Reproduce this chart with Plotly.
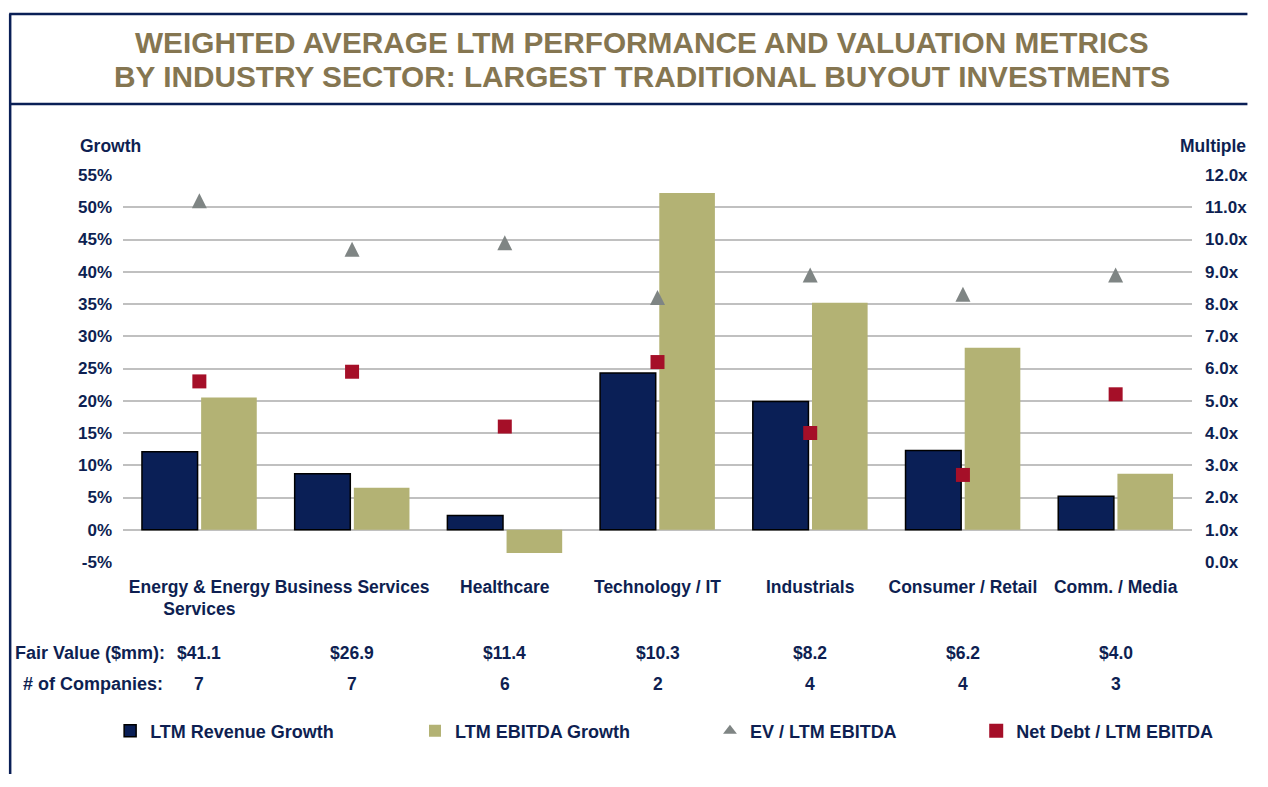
import plotly.graph_objects as go

categories = ["Energy & Energy<br>Services", "Business Services", "Healthcare",
              "Technology / IT", "Industrials", "Consumer / Retail", "Comm. / Media"]
revenue_growth = [12.1, 8.7, 2.2, 24.3, 19.9, 12.3, 5.2]
ebitda_growth = [20.5, 6.5, -3.6, 52.2, 35.2, 28.2, 8.7]
ev_ebitda = [11.2, 9.7, 9.9, 8.2, 8.9, 8.3, 8.9]
net_debt_ebitda = [5.6, 5.9, 4.2, 6.2, 4.0, 2.7, 5.2]
fair_value = ["$41.1", "$26.9", "$11.4", "$10.3", "$8.2", "$6.2", "$4.0"]
num_companies = [7, 7, 6, 2, 4, 4, 3]
growth_ticks = list(range(-5, 60, 5))
multiple_ticks = list(range(0, 13))

NAVY_TXT = "#0E1F52"
NAVY = "#0A1F56"
OLIVE = "#B3B274"
RED = "#A50F28"
GRAY = "#7F8584"
TITLE_C = "#857651"
GRID = "#C0C0C0"
FONT = "Liberation Sans, Arial, sans-serif"

# page body has an 8px margin: figure is drawn from page (8, 8)
OFF = 8
W, H = 1252, 767
L, T = 115, 167
PW, PH = 1080, 387
R, B = W - L - PW, H - T - PH


def px_x(p):
    return (p - OFF - L) / PW


def px_y(p):
    return (T + PH - (p - OFF)) / PH


fig = go.Figure()
fig.add_trace(go.Bar(x=categories, y=revenue_growth, name="LTM Revenue Growth",
                     marker=dict(color=NAVY, line=dict(color="#000000", width=1.5)),
                     legend="legend"))
fig.add_trace(go.Bar(x=categories, y=ebitda_growth, name="LTM EBITDA Growth",
                     marker=dict(color=OLIVE, line=dict(width=0)),
                     legend="legend2"))
fig.add_trace(go.Scatter(x=categories, y=ev_ebitda, name="EV / LTM EBITDA", mode="markers",
                         yaxis="y2", showlegend=False,
                         marker=dict(symbol="arrow-down", angle=180, standoff=7.5,
                                     size=15, color=GRAY, line=dict(width=0))))
# legend entry for the triangle series (no points)
fig.add_trace(go.Scatter(x=[None], y=[None], name="EV / LTM EBITDA", mode="markers",
                         yaxis="y2",
                         marker=dict(symbol="triangle-up", size=12, color=GRAY),
                         legend="legend3"))
fig.add_trace(go.Scatter(x=categories, y=net_debt_ebitda, name="Net Debt / LTM EBITDA",
                         mode="markers", yaxis="y2",
                         marker=dict(symbol="square", size=14, color=RED),
                         legend="legend4"))

base_font = dict(family=FONT, size=17, color=NAVY_TXT, weight="bold")
big_font = dict(family=FONT, size=18, color=NAVY_TXT, weight="bold")
title_font = dict(family=FONT, size=29.8, color=TITLE_C, weight="bold")

annotations = []
annotations.append(dict(text="WEIGHTED AVERAGE LTM PERFORMANCE AND VALUATION METRICS",
                        xref="paper", yref="paper", x=px_x(647), y=px_y(42),
                        xanchor="center", yanchor="middle", showarrow=False,
                        font=title_font))
annotations.append(dict(text="BY INDUSTRY SECTOR: LARGEST TRADITIONAL BUYOUT INVESTMENTS",
                        xref="paper", yref="paper", x=px_x(647), y=px_y(76),
                        xanchor="center", yanchor="middle", showarrow=False,
                        font=title_font))
annotations.append(dict(text="Growth", xref="paper", yref="paper",
                        x=px_x(78), y=px_y(146), xanchor="left", yanchor="middle",
                        showarrow=False, font=dict(base_font, size=17.5)))
annotations.append(dict(text="Multiple", xref="paper", yref="paper",
                        x=px_x(1260), y=px_y(146), xanchor="right", yanchor="middle",
                        showarrow=False, font=dict(base_font, size=17.5)))
annotations.append(dict(text="Fair Value ($mm):", xref="paper", yref="paper",
                        x=px_x(167), y=px_y(653), xanchor="right", yanchor="middle",
                        showarrow=False, font=big_font))
annotations.append(dict(text="# of Companies:", xref="paper", yref="paper",
                        x=px_x(165), y=px_y(684), xanchor="right", yanchor="middle",
                        showarrow=False, font=big_font))
for c, fv, n in zip(categories, fair_value, num_companies):
    annotations.append(dict(text=fv, xref="x", yref="paper", x=c, y=px_y(653),
                            xanchor="center", yanchor="middle", showarrow=False,
                            font=dict(base_font, size=17.5)))
    annotations.append(dict(text=str(n), xref="x", yref="paper", x=c, y=px_y(684),
                            xanchor="center", yanchor="middle", showarrow=False,
                            font=dict(base_font, size=17.5)))

shapes = [
    dict(type="line", xref="paper", yref="paper", x0=px_x(8), x1=px_x(1259),
         y0=px_y(14), y1=px_y(14), line=dict(color=NAVY, width=2.5)),
    dict(type="line", xref="paper", yref="paper", x0=px_x(8), x1=px_x(1259),
         y0=px_y(104), y1=px_y(104), line=dict(color=NAVY, width=2.5)),
    dict(type="line", xref="paper", yref="paper", x0=px_x(9), x1=px_x(9),
         y0=px_y(14), y1=px_y(774), line=dict(color=NAVY, width=2.5)),
]


def leg(xp):
    return dict(orientation="h", x=px_x(xp), y=px_y(731), xanchor="left", yanchor="middle",
                bgcolor="rgba(0,0,0,0)", font=big_font,
                itemclick=False, itemdoubleclick=False)


fig.update_layout(
    width=W, height=H, autosize=False,
    margin=dict(l=L, r=R, t=T, b=B, pad=0),
    paper_bgcolor="white", plot_bgcolor="white",
    font=base_font,
    barmode="group", bargap=0.225, bargroupgap=0.06,
    xaxis=dict(showgrid=False, showline=False, ticks="", zeroline=False,
               tickfont=dict(base_font, size=17.5), tickangle=0, ticklabelstandoff=12),
    yaxis=dict(range=[-5, 55], tickvals=growth_ticks,
               ticktext=["%d%%" % v for v in growth_ticks],
               showgrid=True, gridcolor=GRID, gridwidth=2, zeroline=False,
               showline=False, ticks="", ticklabelstandoff=10,
               tickfont=base_font),
    yaxis2=dict(range=[0, 12], tickvals=multiple_ticks,
                ticktext=["%.1fx" % v for v in multiple_ticks],
                overlaying="y", side="right", showgrid=False, zeroline=False,
                showline=False, ticks="", ticklabelstandoff=12,
                tickfont=base_font),
    showlegend=True,
    legend=leg(110), legend2=leg(418), legend3=leg(716), legend4=leg(985),
    annotations=annotations,
    shapes=shapes,
)

fig.write_html("out.html", config={"displayModeBar": False})
